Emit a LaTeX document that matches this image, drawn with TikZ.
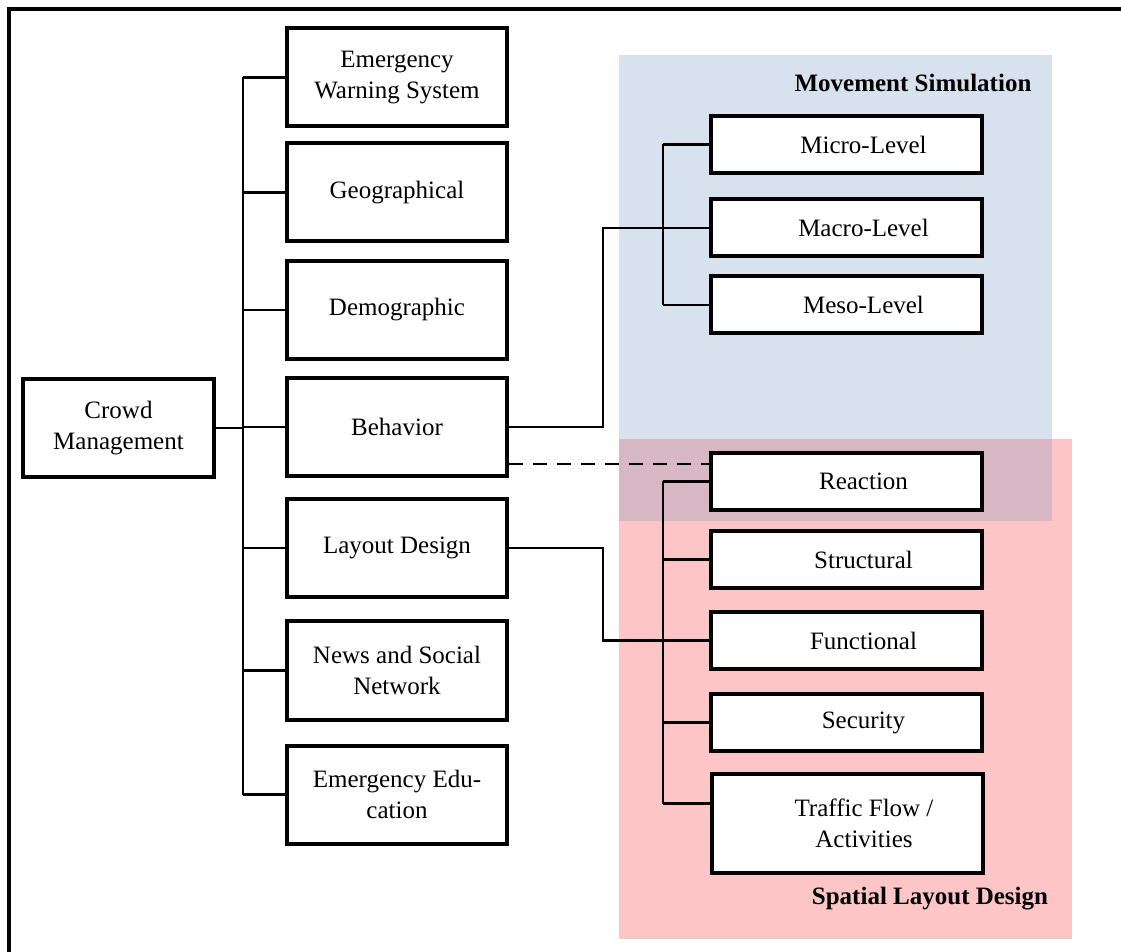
\documentclass[tikz,border=0pt]{standalone}
\usepackage{fontspec}
\setmainfont{Liberation Serif}
\usetikzlibrary{positioning}
\definecolor{msblue}{HTML}{D8E1EE}
\definecolor{slpink}{HTML}{FDC5C5}
\definecolor{mixpurple}{HTML}{D8B7C4}
\tikzset{
    lbox/.style={draw,line width=2pt,fill=white,minimum width=110pt,minimum height=49pt,align=center,font=\fontsize{12.5}{15.5}\selectfont},
    rbox/.style={draw,line width=2pt,fill=white,minimum width=135.5pt,minimum height=28.5pt,align=center,font=\fontsize{12.5}{15.5}\selectfont},
    wire/.style={line width=1.3pt},
}

\begin{document}
\begin{tikzpicture}[x=0.5pt,y=-0.5pt]
\useasboundingbox (0,0) rectangle (1121,952);
\clip (0,0) rectangle (1121,952);
\fill[white] (0,0) rectangle (1121,952);
\draw[line width=2pt] (9,960) -- (9,9) -- (1130,9);
% shaded groups
\fill[slpink] (619,439) rectangle (1072,939);
\fill[msblue] (619,55) rectangle (1052,439);
\fill[mixpurple] (619,439) rectangle (1052,521);
\node[font=\fontsize{12.5}{15.5}\selectfont\bfseries] (mstitle) at (913,83) {Movement Simulation};
\node[font=\fontsize{12.5}{15.5}\selectfont\bfseries] (sltitle) at (930,899) {Spatial Layout Design};
% left column
\node[lbox,minimum width=95.5pt] (crowd) at (118.5,428) {Crowd\\Management};
\node[lbox] (ews) at (397,77.5) {Emergency\\Warning System};
\node[lbox] (geo) at (397,192.5) {Geographical};
\node[lbox] (demo) at (397,310) {Demographic};
\node[lbox] (behav) at (397,427) {Behavior};
\node[lbox] (layout) at (397,548) {Layout Design};
\node[lbox] (news) at (397,670.5) {News and Social\\Network};
\node[lbox] (edu) at (397,794.5) {Emergency Edu-\\cation};
% right column
\node[rbox] (micro) at (846.5,144.5) {\hspace*{17pt}Micro-Level};
\node[rbox] (macro) at (846.5,228) {\hspace*{17pt}Macro-Level};
\node[rbox] (meso) at (846.5,305) {\hspace*{17pt}Meso-Level};
\node[rbox] (react) at (846.5,481.5) {\hspace*{17pt}Reaction};
\node[rbox] (struct) at (846.5,559.5) {\hspace*{17pt}Structural};
\node[rbox] (func) at (846.5,640.5) {\hspace*{17pt}Functional};
\node[rbox] (secur) at (846.5,722.5) {\hspace*{17pt}Security};
\node[rbox,minimum height=49.5pt] (traffic) at (847,823.5) {\hspace*{17pt}Traffic Flow /\\\hspace*{17pt}Activities};
% main tree
\coordinate (trunk) at (243,0);
\draw[wire] (trunk |- ews.west) -- (trunk |- edu.west);
\foreach \n in {ews,geo,demo,behav,layout,news,edu}
    \draw[wire] (trunk |- \n.west) -- (\n.west);
\draw[wire] (crowd.east) -- (trunk |- crowd.east);
% movement simulation
\coordinate (mstrunk) at (663,0);
\coordinate (bend) at (603,0);
\draw[wire] (mstrunk |- micro.west) -- (mstrunk |- meso.west);
\foreach \n in {micro,macro,meso}
    \draw[wire] (mstrunk |- \n.west) -- (\n.west);
\draw[wire] (behav.east) -- (bend |- behav.east) -- (bend |- macro.west) -- (macro.west);
% spatial layout design
\coordinate (trafficin) at ([yshift=10pt]traffic.west);
\draw[wire] (mstrunk |- react.west) -- (mstrunk |- trafficin);
\foreach \n in {react,struct,func,secur}
    \draw[wire] (mstrunk |- \n.west) -- (\n.west);
\draw[wire] (mstrunk |- trafficin) -- (trafficin);
\draw[wire] (layout.east) -- (bend |- layout.east) -- (bend |- func.west) -- (func.west);
\coordinate (dashto) at ([yshift=8.75pt]react.west);
\draw[wire,dash pattern=on 7pt off 5pt] (behav.east |- dashto) -- (dashto);
\end{tikzpicture}
\end{document}
